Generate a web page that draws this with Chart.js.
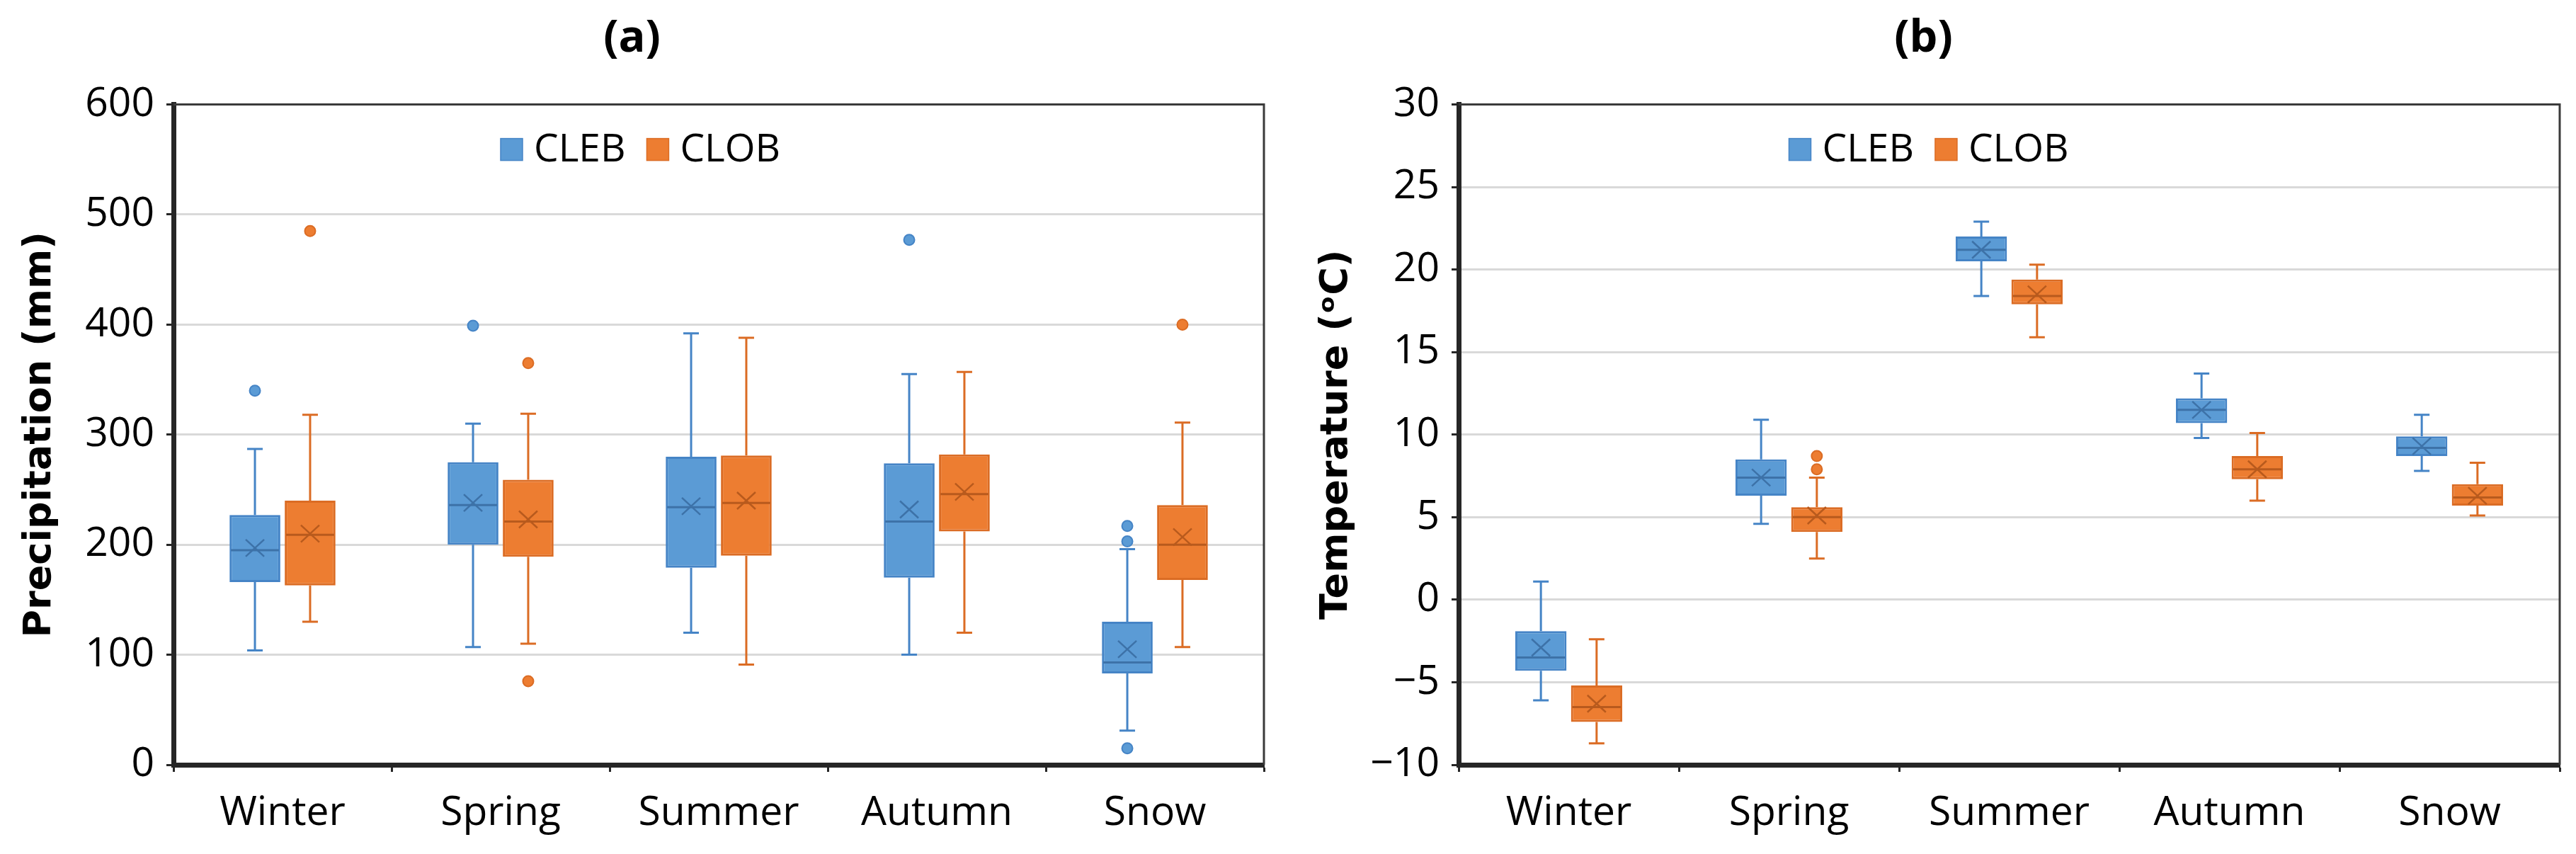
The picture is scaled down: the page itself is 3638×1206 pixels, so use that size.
<!DOCTYPE html>
<html lang="en">
<head>
<meta charset="UTF-8">
<title>Precipitation and temperature box plots</title>
<script src="https://cdn.jsdelivr.net/npm/chart.js@4.4.1/dist/chart.umd.min.js"></script>
<style>
  body { margin: 0; background: #fff; }
  .panel { position: absolute; top: 0; height: 1206px; }
  #panelA { left: 0; width: 1788px; }
  #panelB { left: 1818px; width: 1816px; }
</style>
</head>
<body>
<div class="panel" id="panelA"><canvas id="chartA" width="1788" height="1206"></canvas></div>
<div class="panel" id="panelB"><canvas id="chartB" width="1816" height="1206"></canvas></div>

<script>
// categories and series
const seasons = ['Winter', 'Spring', 'Summer', 'Autumn', 'Snow'];
const seriesNames = ['CLEB', 'CLOB'];

// (a) precipitation, mm
const precipClebMin     = [104, 107, 120, 100, 31];
const precipClebQ1      = [166, 200, 179, 170, 83];
const precipClebMedian  = [195, 236, 234, 221, 93];
const precipClebQ3      = [227, 275, 280, 274, 130];
const precipClebMax     = [287, 310, 392, 355, 196];
const precipClebMean    = [197, 238, 235, 232, 105];
const precipClebOutliers = [[340], [399], [], [477], [217, 203, 15]];

const precipClobMin     = [130, 110, 91, 120, 107];
const precipClobQ1      = [163, 189, 190, 212, 168];
const precipClobMedian  = [209, 221, 238, 246, 200];
const precipClobQ3      = [240, 259, 281, 282, 236];
const precipClobMax     = [318, 319, 388, 357, 311];
const precipClobMean    = [210, 223, 240, 248, 207];
const precipClobOutliers = [[485], [365, 76], [], [], [400]];

// (b) temperature, degC
const tempClebMin     = [-6.1, 4.6, 18.4, 9.8, 7.8];
const tempClebQ1      = [-4.3, 6.3, 20.5, 10.7, 8.7];
const tempClebMedian  = [-3.5, 7.4, 21.2, 11.5, 9.2];
const tempClebQ3      = [-1.9, 8.5, 22.0, 12.2, 9.9];
const tempClebMax     = [1.1, 10.9, 22.9, 13.7, 11.2];
const tempClebMean    = [-2.9, 7.4, 21.2, 11.5, 9.3];
const tempClebOutliers = [[], [], [], [], []];

const tempClobMin     = [-8.7, 2.5, 15.9, 6.0, 5.1];
const tempClobQ1      = [-7.4, 4.1, 17.9, 7.3, 5.7];
const tempClobMedian  = [-6.5, 5.0, 18.4, 7.9, 6.2];
const tempClobQ3      = [-5.2, 5.6, 19.4, 8.7, 7.0];
const tempClobMax     = [-2.4, 7.4, 20.3, 10.1, 8.3];
const tempClobMean    = [-6.3, 5.1, 18.5, 7.9, 6.3];
const tempClobOutliers = [[], [7.9, 8.7], [], [], []];

// axis ticks
const precipTicks = { min: 0, max: 600, step: 100 };
const tempTicks = { min: -10, max: 30, step: 5 };

const blue = { fill: '#5B9BD5', line: '#4584C6', mark: '#3D72A8' };
const orange = { fill: '#ED7D31', line: '#DB6C24', mark: '#B85A1D' };

function boxDataset(label, col, min, q1, median, q3, max, mean, outliers) {
    return {
        label: label,
        data: seasons.map((s, i) => [q1[i], q3[i]]),
        backgroundColor: col.fill,
        borderColor: col.line,
        borderWidth: 3,
        borderSkipped: false,
        categoryPercentage: 0.506,
        barPercentage: 0.92,
        stats: { min: min, median: median, max: max, mean: mean, outliers: outliers },
        colors: col
    };
}

// whiskers, median, mean cross and outliers, drawn with the y scale
const boxExtras = {
    id: 'boxExtras',
    afterDatasetsDraw(chart) {
        const ctx = chart.ctx;
        const y = chart.scales.y;
        chart.data.datasets.forEach((ds, di) => {
            const meta = chart.getDatasetMeta(di);
            const s = ds.stats;
            meta.data.forEach((bar, i) => {
                const x = bar.x;
                const half = bar.width / 2;
                const q1 = ds.data[i][0], q3 = ds.data[i][1];
                const cap = 11;
                ctx.save();
                ctx.lineCap = 'butt';
                ctx.strokeStyle = ds.colors.line;
                ctx.lineWidth = 3;
                ctx.beginPath();
                ctx.moveTo(x, y.getPixelForValue(q3));
                ctx.lineTo(x, y.getPixelForValue(s.max[i]));
                ctx.moveTo(x - cap, y.getPixelForValue(s.max[i]));
                ctx.lineTo(x + cap, y.getPixelForValue(s.max[i]));
                ctx.moveTo(x, y.getPixelForValue(q1));
                ctx.lineTo(x, y.getPixelForValue(s.min[i]));
                ctx.moveTo(x - cap, y.getPixelForValue(s.min[i]));
                ctx.lineTo(x + cap, y.getPixelForValue(s.min[i]));
                ctx.stroke();

                // median
                ctx.strokeStyle = ds.colors.mark;
                ctx.lineWidth = 3;
                const my = y.getPixelForValue(s.median[i]);
                ctx.beginPath();
                ctx.moveTo(x - half + 2, my);
                ctx.lineTo(x + half - 2, my);
                ctx.stroke();

                // mean cross
                const ay = y.getPixelForValue(s.mean[i]);
                ctx.lineWidth = 2.5;
                ctx.beginPath();
                ctx.moveTo(x - 13, ay - 12);
                ctx.lineTo(x + 13, ay + 12);
                ctx.moveTo(x - 13, ay + 12);
                ctx.lineTo(x + 13, ay - 12);
                ctx.stroke();

                // outliers
                s.outliers[i].forEach(v => {
                    ctx.beginPath();
                    ctx.arc(x, y.getPixelForValue(v), 7.5, 0, Math.PI * 2);
                    ctx.fillStyle = ds.colors.fill;
                    ctx.fill();
                    ctx.lineWidth = 2;
                    ctx.strokeStyle = ds.colors.line;
                    ctx.stroke();
                });
                ctx.restore();
            });
        });
    }
};

// thin frame on the top and right of the plot area
const plotFrame = {
    id: 'plotFrame',
    beforeDatasetsDraw(chart) {
        const a = chart.chartArea;
        const ctx = chart.ctx;
        ctx.save();
        ctx.strokeStyle = '#3a3a3a';
        ctx.lineWidth = 3;
        ctx.beginPath();
        ctx.moveTo(a.left, a.top);
        ctx.lineTo(a.right, a.top);
        ctx.lineTo(a.right, a.bottom);
        ctx.stroke();
        ctx.restore();
    }
};

// legend placed inside the plot area, near the top
const innerLegend = {
    id: 'innerLegend',
    afterDraw(chart) {
        const a = chart.chartArea;
        const ctx = chart.ctx;
        let x = a.left + 0.3 * (a.right - a.left);
        const cy = a.top + 63;
        ctx.save();
        ctx.font = '55px "Open Sans"';
        ctx.textBaseline = 'middle';
        ctx.textAlign = 'left';
        chart.data.datasets.forEach(ds => {
            ctx.fillStyle = ds.colors.fill;
            ctx.fillRect(x, cy - 15, 31, 31);
            ctx.strokeStyle = ds.colors.line;
            ctx.lineWidth = 1.5;
            ctx.strokeRect(x, cy - 15, 31, 31);
            x += 47;
            ctx.fillStyle = '#000';
            ctx.fillText(ds.label, x, cy + 2);
            x += ctx.measureText(ds.label).width + 30;
        });
        ctx.restore();
    }
};

function makeChart(canvasId, title, yTitle, datasets, range, yTitlePad, padRight, yWidth) {
    return new Chart(document.getElementById(canvasId), {
        type: 'bar',
        data: { labels: seasons, datasets: datasets },
        plugins: [plotFrame, boxExtras, innerLegend],
        options: {
            responsive: false,
            animation: false,
            layout: { padding: { left: 0, right: padRight, top: 0, bottom: 0 } },
            plugins: {
                legend: { display: false },
                tooltip: { enabled: false },
                title: {
                    display: true,
                    text: title,
                    color: '#000',
                    font: { family: 'Open Sans', size: 63, weight: 'bold', lineHeight: 1.2 },
                    padding: { top: 17, bottom: 55 }
                }
            },
            scales: {
                x: {
                    afterFit: s => { s.height = 126; },
                    grid: {
                        display: true,
                        offset: true,
                        drawOnChartArea: false,
                        drawTicks: true,
                        tickLength: 10,
                        tickWidth: 3,
                        tickColor: '#262626'
                    },
                    border: { color: '#262626', width: 7 },
                    ticks: {
                        color: '#000',
                        padding: 25,
                        font: { family: 'Open Sans', size: 57 }
                    }
                },
                y: {
                    min: range.min,
                    max: range.max,
                    afterFit: s => { s.width = yWidth; },
                    grid: {
                        color: '#d9d9d9',
                        lineWidth: 3,
                        tickLength: 10,
                        tickWidth: 3,
                        tickColor: '#262626'
                    },
                    border: { color: '#262626', width: 7 },
                    ticks: {
                        stepSize: range.step,
                        color: '#000',
                        padding: 17,
                        font: { family: 'Open Sans', size: 57 },
                        callback: v => v < 0 ? '\u2212' + Math.abs(v) : String(v)
                    },
                    title: {
                        display: true,
                        text: yTitle,
                        color: '#000',
                        font: { family: 'DejaVu Sans', size: 54, weight: 'bold', lineHeight: 1.2 },
                        padding: { top: yTitlePad, bottom: 0 }
                    }
                }
            }
        }
    });
}

function build() {
    makeChart('chartA', '(a)', 'Precipitation (mm)', [
        boxDataset(seriesNames[0], blue, precipClebMin, precipClebQ1, precipClebMedian,
            precipClebQ3, precipClebMax, precipClebMean, precipClebOutliers),
        boxDataset(seriesNames[1], orange, precipClobMin, precipClobQ1, precipClobMedian,
            precipClobQ3, precipClobMax, precipClobMean, precipClobOutliers)
    ], precipTicks, 25, 3, 245);

    makeChart('chartB', '(b)', 'Temperature (\u1D52C)', [
        boxDataset(seriesNames[0], blue, tempClebMin, tempClebQ1, tempClebMedian,
            tempClebQ3, tempClebMax, tempClebMean, tempClebOutliers),
        boxDataset(seriesNames[1], orange, tempClobMin, tempClobQ1, tempClobMedian,
            tempClobQ3, tempClobMax, tempClobMean, tempClobOutliers)
    ], tempTicks, 38, 19, 242);
}

Promise.all([
    document.fonts.load('57px "Open Sans"'),
    document.fonts.load('bold 63px "Open Sans"'),
    document.fonts.load('bold 54px "DejaVu Sans"')
]).then(build, build);
</script>
</body>
</html>
